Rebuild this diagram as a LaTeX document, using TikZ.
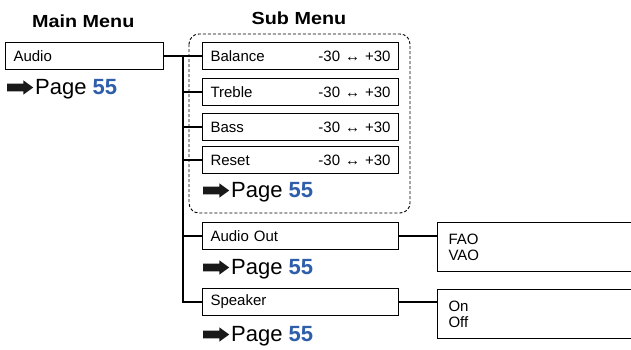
\documentclass[tikz,border=0pt]{standalone}
\usepackage{fontspec}
\setmainfont{Liberation Sans}
\newfontfamily\titlefont[FakeStretch=1.13]{Liberation Sans Bold}
\usetikzlibrary{shapes.arrows}
\definecolor{pgblue}{RGB}{47,95,170}
\newcommand\pgtxt{{\fontsize{22}{24}\selectfont Page \textbf{\color{pgblue}55}}}
\tikzset{
  menubox/.style={draw, line width=1.1pt, rectangle, inner xsep=8pt, inner ysep=0pt,
     minimum height=27pt, minimum width=196pt, anchor=north west,
     font=\fontsize{15}{16}\selectfont, text width=180pt, align=left},
  optbox/.style={draw, line width=1.1pt, rectangle, inner xsep=11pt, inner ysep=0pt,
     minimum height=49pt, minimum width=230pt, anchor=north west,
     font=\fontsize{15}{16}\selectfont, text width=208pt, align=left},
  conn/.style={line width=1.4pt},
  pgarrow/.style={single arrow, fill=black!90, draw=none, inner sep=3.6pt,
     minimum height=26pt, single arrow head extend=3.4pt, single arrow tip angle=72,
     anchor=west},
  pgtext/.style={anchor=base west, inner sep=0pt},
  title/.style={anchor=base west, inner sep=0pt, font=\titlefont\fontsize{17.5}{20}\selectfont},
}
\begin{document}
\begin{tikzpicture}[x=1pt,y=-1pt]
\useasboundingbox (0,0) rectangle (631,349);
\clip (0,0) rectangle (631,349);
% titles
\node[title] (tmain) at (32,27) {Main Menu};
\node[title] (tsub) at (251.5,24) {Sub Menu};
% dashed group
\draw[dash pattern=on 3pt off 2pt, line width=0.9pt, rounded corners=10pt] (189,34) rectangle (410,213);
% main
\node[menubox, minimum width=158pt, text width=142pt] (audio) at (5,42) {Audio};
\node[pgarrow] (a0) at (7,87.5) {};
\node[pgtext] (p0) at (35,94) {\pgtxt};
% sub
\node[menubox] (bal) at (202,42) {Balance\hfill -30 ↔ +30};
\node[menubox] (tre) at (202,78) {Treble\hfill -30 ↔ +30};
\node[menubox] (bas) at (202,113) {Bass\hfill -30 ↔ +30};
\node[menubox] (res) at (202,146) {Reset\hfill -30 ↔ +30};
\node[pgarrow] (a1) at (203,190.5) {};
\node[pgtext] (p1) at (231,197) {\pgtxt};
\node[menubox] (ao) at (202,222) {Audio Out};
\node[pgarrow] (a2) at (203,267.5) {};
\node[pgtext] (p2) at (231,274) {\pgtxt};
\node[menubox] (spk) at (202,288) {Speaker};
\node[pgarrow] (a3) at (203,334.5) {};
\node[pgtext] (p3) at (231,341) {\pgtxt};
% options
\node[optbox] (fao) at (437,222) {FAO\\VAO};
\node[optbox] (onoff) at (437,289) {On\\Off};
% connectors
\coordinate (trunk) at (183,56);
\draw[conn] (audio.east) -- (audio.east -| trunk) |- (spk.west);
\draw[conn] (trunk |- bal.west) -- (bal.west);
\draw[conn] (trunk |- tre.west) -- (tre.west);
\draw[conn] (trunk |- bas.west) -- (bas.west);
\draw[conn] (trunk |- res.west) -- (res.west);
\draw[conn] (trunk |- ao.west) -- (ao.west);
\draw[conn] (ao.east) -- (ao.east -| fao.west);
\draw[conn] (spk.east) -- (spk.east -| onoff.west);
\end{tikzpicture}
\end{document}
